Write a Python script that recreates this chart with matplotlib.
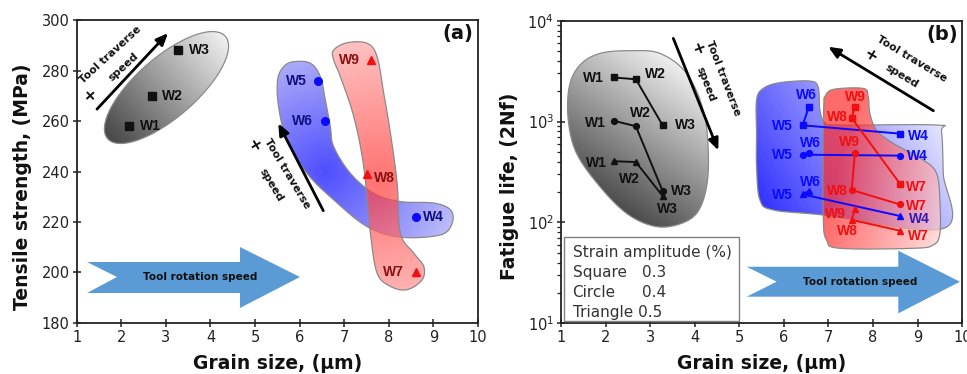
import numpy as np
import matplotlib
matplotlib.use("Agg")
import matplotlib.pyplot as plt
from matplotlib.patches import Polygon

# ---------------- data ----------------
welds = ['W1', 'W2', 'W3', 'W4', 'W5', 'W6', 'W7', 'W8', 'W9']
grain_size = [2.18, 2.68, 3.28, 8.60, 6.42, 6.56, 8.60, 7.52, 7.59]
tensile = [258, 270, 288, 222, 276, 260, 200, 239, 284]

fatigue_square = [2740, 2630, 920, 760, 920, 1400, 243, 1085, 1400]     # 0.3 %
fatigue_circle = [1020, 900, 205, 460, 470, 484, 151, 210, 484]         # 0.4 %
fatigue_triangle = [405, 397, 183, 116, 190, 205, 83, 106, 135]         # 0.5 %

groups = {'black': [0, 1, 2], 'blue': [5, 4, 3], 'red': [8, 7, 6]}
xticks = [1, 2, 3, 4, 5, 6, 7, 8, 9, 10]
ts_ticks = [180, 200, 220, 240, 260, 280, 300]

# ---------------- style ----------------
COL = {'black': '#111111', 'blue': '#0a0aff', 'red': '#f01010'}
LABFONT = ['Liberation Sans', 'DejaVu Sans']
group_of = {}
for g, idx in groups.items():
    for i in idx:
        group_of[i] = g

W_PX, H_PX = 401.3, 303.0


def smooth_closed(pts, n=24):
    P = np.asarray(pts, float)
    N = len(P)
    out = []
    t = np.linspace(0, 1, n, endpoint=False)[:, None]
    for i in range(N):
        p0, p1, p2, p3 = P[i - 1], P[i], P[(i + 1) % N], P[(i + 2) % N]
        out.append(0.5 * (2 * p1 + (-p0 + p2) * t + (2 * p0 - 5 * p1 + 4 * p2 - p3) * t ** 2
                          + (-p0 + 3 * p1 - 3 * p2 + p3) * t ** 3))
    return np.vstack(out)


def hex2rgb(h):
    h = h.lstrip('#')
    return np.array([int(h[i:i + 2], 16) / 255 for i in (0, 2, 4)])


def gradient_img(kind, p0, p1, c0, c1, alpha, n=300):
    u = np.linspace(0, 1, n)
    U, V = np.meshgrid(u, u)
    X, Y = U * W_PX, V * H_PX
    a = np.array([p0[0] * W_PX, p0[1] * H_PX])
    if kind == 'linear':
        b = np.array([p1[0] * W_PX, p1[1] * H_PX])
        d = b - a
        t = ((X - a[0]) * d[0] + (Y - a[1]) * d[1]) / (d @ d)
    else:
        t = np.hypot(X - a[0], Y - a[1]) / p1
    t = np.clip(t, 0, 1)[..., None]
    rgb = hex2rgb(c0) * (1 - t) + hex2rgb(c1) * t
    img = np.dstack([rgb, np.full((n, n, 1), alpha)])
    return img


def blob(ax, verts, grad, z=1.0):
    poly = Polygon(verts, closed=True, facecolor='none', edgecolor='#8a8a8a',
                   lw=0.9, transform=ax.transData, zorder=z + 0.1)
    ax.add_patch(poly)
    im = ax.imshow(gradient_img(*grad), extent=(0, 1, 0, 1), origin='lower',
                   transform=ax.transAxes, aspect='auto', interpolation='bilinear',
                   zorder=z)
    im.set_clip_path(poly)


def big_arrow(ax, pts, text):
    ax.add_patch(Polygon(pts, closed=True, transform=ax.transAxes,
                         facecolor='#5b9bd5', edgecolor='none', zorder=2))
    ax.text(0.5 * (pts[1][0] + pts[5][0]) - 0.02, pts[1][1], text, transform=ax.transAxes,
            ha='center', va='center', fontsize=7.5, fontweight='bold', color='#111111', zorder=5)


def traverse(ax, start, end, tt_pos, sp_pos, plus_pos, rot):
    ax.annotate('', xy=end, xytext=start, xycoords='axes fraction',
                arrowprops=dict(arrowstyle='-|>,head_length=0.7,head_width=0.3',
                                lw=2.0, color='k', shrinkA=0, shrinkB=0), zorder=5)
    for s, p in (('Tool traverse', tt_pos), ('speed', sp_pos)):
        ax.text(*p, s, transform=ax.transAxes, rotation=rot, rotation_mode='anchor',
                ha='center', va='center', fontsize=7.8, fontweight='bold',
                color='#111111', zorder=5)
    ax.text(*plus_pos, '+', transform=ax.transAxes, rotation=rot, rotation_mode='anchor',
            ha='center', va='center', fontsize=11.5, fontweight='bold', color='#111111', zorder=5)


def style_axes(ax):
    for s in ax.spines.values():
        s.set_linewidth(1.3)
        s.set_color('#222222')
    ax.tick_params(which='major', direction='inout', length=6, width=1.1,
                   labelsize=10.5, labelcolor='#222222', color='#222222', pad=2)
    ax.tick_params(which='minor', direction='out', length=3, width=0.9, color='#222222')
    ax.set_xlabel('Grain size, (\u03bcm)', fontsize=13.5, fontweight='bold', color='#111111',
                  va='center')
    ax.xaxis.set_label_coords(0.5, -0.134)


fig = plt.figure(figsize=(9.67, 3.74), dpi=100)
ax1 = fig.add_axes([0.0793, 0.1364, 0.415, 0.810])
ax2 = fig.add_axes([0.5801, 0.1355, 0.415, 0.809])

# ================= panel (a) =================
ax1.set_xlim(1, 10)
ax1.set_ylim(180, 300)
ax1.autoscale(False)

th = np.linspace(0, 2 * np.pi, 200)
ang = np.deg2rad(41)
ex = 78 * np.cos(th) * np.cos(ang) - 30 * np.sin(th) * np.sin(ang)
ey = 78 * np.cos(th) * np.sin(ang) + 30 * np.sin(th) * np.cos(ang)
fx = (166.5 + ex - 76.7) / W_PX
fy = (323 - 87.5 + ey) / H_PX
ell = np.column_stack([1 + 9 * fx, 180 + 120 * fy])
blob(ax1, ell, ('linear', (0.083, 0.614), (0.37, 0.951), '#4a4a4a', '#f2f2f2', 1.0))

blue_a = [(5.865, 283.5), (6.240, 282.9), (6.464, 277.6), (6.576, 268.4), (6.689, 257.8),
          (6.763, 249.9), (7.138, 239.3), (7.662, 231.4), (8.260, 228.1), (9.009, 227.5),
          (9.383, 224.8), (9.421, 219.6), (9.159, 214.9), (8.260, 214.0), (7.512, 218.2),
          (6.763, 228.8), (6.165, 239.3), (5.716, 252.5), (5.528, 265.7), (5.506, 276.3),
          (5.641, 281.5)]
blob(ax1, smooth_closed(blue_a), ('radial', (0.62, 0.50), 175, '#3a3aff', '#d8d8f6', 0.9), z=1.0)

red_a = [(6.763, 288.1), (7.063, 291.0), (7.512, 290.8), (7.737, 285.5), (7.886, 271.0),
         (8.036, 255.2), (8.186, 235.4), (8.260, 215.6), (8.560, 207.7), (8.784, 202.4),
         (8.747, 197.1), (8.410, 193.2), (8.036, 194.5), (7.737, 199.8), (7.587, 215.6),
         (7.437, 242.0), (7.213, 261.8), (6.913, 277.6), (6.763, 284.2)]
blob(ax1, smooth_closed(red_a), ('radial', (0.75, 0.47), 175, '#ff3a3a', '#ffc4c4', 0.72), z=1.3)

markers_a = {'black': 's', 'blue': 'o', 'red': '^'}
for g, idx in groups.items():
    ax1.plot([grain_size[i] for i in idx], [tensile[i] for i in idx], ls='none',
             marker=markers_a[g], ms=5.5, color=COL[g], mec=COL[g], zorder=4)

lab_a = {0: (21, 0), 1: (21, 0), 2: (21, 0), 3: (18, 0), 4: (-22, 0), 5: (-22, 0),
         6: (-22, 0), 7: (17, -4), 8: (-21, 0)}
for i, w in enumerate(welds):
    g = group_of[i]
    c = '#111111' if g == 'black' else ('#101080' if g == 'blue' else '#8a1010')
    ax1.annotate(w, (grain_size[i], tensile[i]), xytext=lab_a[i], textcoords='offset pixels',
                 ha='center', va='center', fontsize=10, fontweight='bold', color=c,
                 family=LABFONT, zorder=5)

big_arrow(ax1, [(0.0257, 0.2013), (0.1004, 0.1518), (0.0257, 0.099), (0.4069, 0.099),
                (0.4069, 0.0495), (0.5564, 0.1518), (0.4069, 0.2508), (0.4069, 0.2013)],
          'Tool rotation speed')
traverse(ax1, (0.0506, 0.706), (0.2276, 0.957), (0.0847, 0.8845), (0.1163, 0.8449),
         (0.0332, 0.7525), 42.6)
traverse(ax1, (0.6145, 0.3706), (0.5024, 0.659), (0.5233, 0.4917), (0.4859, 0.4554),
         (0.4401, 0.5875), -59)

ax1.text(0.95, 0.957, '(a)', transform=ax1.transAxes, ha='center', va='center',
         fontsize=14, fontweight='bold', color='#111111')
ax1.set_xticks(xticks)
ax1.set_yticks(ts_ticks)
style_axes(ax1)
ax1.set_ylabel('Tensile strength, (MPa)', fontsize=13.5, fontweight='bold', color='#111111',
               va='center')
ax1.yaxis.set_label_coords(-0.136, 0.45)

# ================= panel (b) =================
ax2.set_yscale('log')
ax2.set_xlim(1, 10)
ax2.set_ylim(10, 1e4)
ax2.autoscale(False)


def logpts(pts):
    s = smooth_closed(pts)
    return np.column_stack([s[:, 0], 10 ** s[:, 1]])


grey_b = [(2.547, 3.703), (3.220, 3.676), (3.818, 3.478), (4.191, 3.115), (4.303, 2.718),
          (4.266, 2.355), (4.042, 2.090), (3.593, 1.975), (3.070, 1.965), (2.472, 2.090),
          (1.874, 2.355), (1.351, 2.685), (1.164, 3.016), (1.187, 3.346), (1.426, 3.561),
          (1.874, 3.676)]
blob(ax2, logpts(grey_b), ('linear', (0.072, 0.384), (0.313, 0.848), '#3c3c3c', '#f2f2f2', 1.0))

blue_b = [(5.387, 3.214), (5.537, 3.329), (5.910, 3.386), (6.583, 3.402), (6.770, 3.339),
          (6.807, 3.115), (6.919, 2.989), (7.256, 2.966), (9.423, 2.966), (9.535, 2.900),
          (9.573, 2.487), (9.587, 1.942), (6.882, 2.074), (5.761, 2.124), (5.462, 2.223),
          (5.387, 2.553), (5.387, 2.883)]
blob(ax2, logpts(blue_b), ('linear', (0.48, 0.36), (0.93, 0.72), '#1010ff', '#e6e6ff', 0.9), z=1.0)

red_b = [(6.919, 3.247), (7.106, 3.319), (7.779, 3.329), (7.891, 3.247), (7.928, 3.082),
         (8.078, 2.916), (8.451, 2.784), (9.124, 2.619), (9.423, 2.487), (9.498, 2.223),
         (9.498, 1.892), (9.348, 1.777), (8.900, 1.744), (7.256, 1.744), (6.957, 1.826),
         (6.882, 2.057), (6.882, 2.883), (6.897, 3.181)]
blob(ax2, logpts(red_b), ('linear', (0.66, 0.35), (0.95, 0.25), '#ff2a2a', '#ffd4d4', 0.7), z=1.3)

series_b = [(fatigue_square, 's'), (fatigue_circle, 'o'), (fatigue_triangle, '^')]
for vals, mk in series_b:
    for g, idx in groups.items():
        ax2.plot([grain_size[i] for i in idx], [vals[i] for i in idx], '-', marker=mk,
                 ms=4.2, lw=1.4, color=COL[g], zorder=4)

lab_b = {
    's': {0: (-20, -1), 1: (19, 5), 2: (23, 0), 3: (19, -2), 4: (-20, -1), 5: (-2, 12),
          6: (17, -3), 7: (-14, 1), 8: (1, 10)},
    'o': {0: (-18, -2), 1: (4, 13), 2: (19, 0), 3: (18, 0), 4: (-20, 0), 5: (2, 10),
          6: (17, -2), 7: (-14, -1), 8: (-5, 11)},
    '^': {0: (-17, -2), 1: (-7, -17), 2: (5, -13), 3: (20, -3), 4: (-20, -1), 5: (2, 9),
          6: (19, -5), 7: (-4, -11), 8: (-19, -5)},
}
for vals, mk in series_b:
    for i, w in enumerate(welds):
        g = group_of[i]
        c = COL[g]
        if mk == '^' and i == 3:
            c = '#3a1ab0'
        ax2.annotate(w, (grain_size[i], vals[i]), xytext=lab_b[mk][i],
                     textcoords='offset pixels', ha='center', va='center', fontsize=10,
                     fontweight='bold', color=c, family=LABFONT, zorder=5)

big_arrow(ax2, [(0.4627, 0.187), (0.5375, 0.1375), (0.4627, 0.088), (0.8406, 0.088),
                (0.8406, 0.033), (0.9943, 0.1375), (0.8406, 0.24), (0.8406, 0.187)],
          'Tool rotation speed')
traverse(ax2, (0.280, 0.9417), (0.392, 0.5716), (0.4044, 0.8116), (0.3600, 0.790),
         (0.338, 0.9088), -69)
traverse(ax2, (0.928, 0.7026), (0.666, 0.914), (0.874, 0.8734), (0.849, 0.818),
         (0.770, 0.884), -31)

ax2.add_patch(Polygon([(0.0075, 0.0086), (0.444, 0.0086), (0.444, 0.284), (0.0075, 0.284)],
                      closed=True, transform=ax2.transAxes, facecolor='white',
                      edgecolor='#808080', lw=1.0, zorder=3))
leg_rows = [('Strain amplitude (%)', None, 0.2346), ('Square', '0.3', 0.167),
            ('Circle', '0.4', 0.101), ('Triangle 0.5', None, 0.035)]
for name, val, yy in leg_rows:
    ax2.text(0.029, yy, name, transform=ax2.transAxes, ha='left', va='center',
             fontsize=11, color='#333333', zorder=5)
    if val:
        ax2.text(0.203, yy, val, transform=ax2.transAxes, ha='left', va='center',
                 fontsize=11, color='#333333', zorder=5)

ax2.text(0.949, 0.956, '(b)', transform=ax2.transAxes, ha='center', va='center',
         fontsize=14, fontweight='bold', color='#111111')
ax2.set_xticks(xticks)
style_axes(ax2)
ax2.set_ylabel('Fatigue life, (2Nf)', fontsize=13.5, fontweight='bold', color='#111111',
               va='center')
ax2.yaxis.set_label_coords(-0.127, 0.453)

fig.savefig('out.png', dpi=100)
